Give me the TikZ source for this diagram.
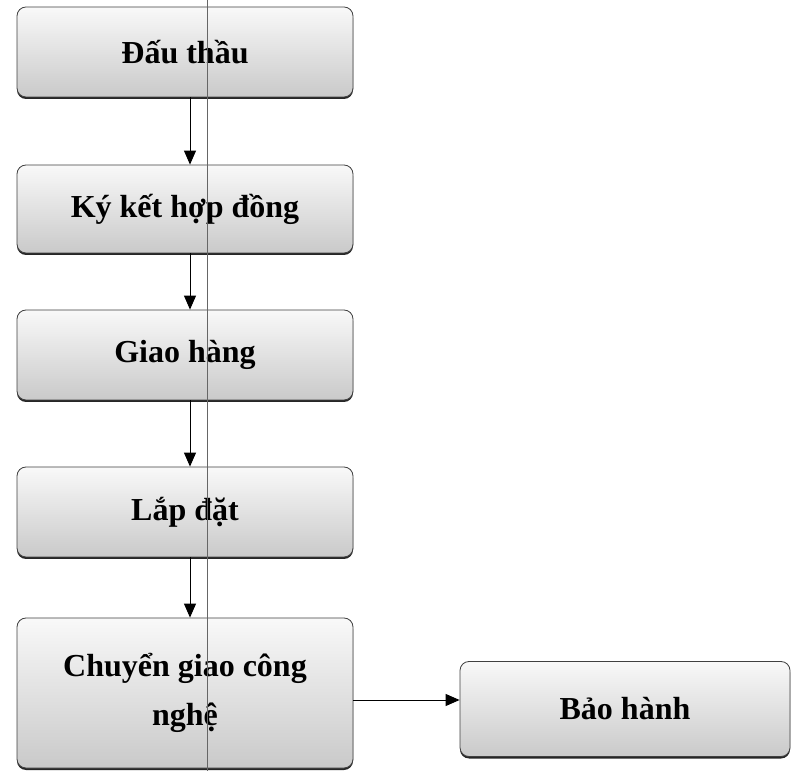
\documentclass[tikz,border=0pt]{standalone}
\usepackage{fontspec}
\setmainfont{Liberation Serif}
\usetikzlibrary{shapes.geometric, arrows.meta, shadows}

\begin{document}
\begin{tikzpicture}[x=1pt, y=1pt,
        stage/.style={rectangle, rounded corners=9pt, draw=black!75, line width=0.8pt, top color=gray!5, bottom color=gray!42, align=center, minimum width=336pt, minimum height=90pt, font=\fontsize{32}{49}\selectfont\bfseries, drop shadow={shadow xshift=0pt, shadow yshift=-2pt, fill=black!85, opacity=1}},
        flow/.style={-{Triangle[length=14pt, width=12pt]}, line width=1pt}]
        \useasboundingbox (0,0) rectangle (792,771);

        % Define nodes
        \node (dauthau) [stage] at (185,719) {Đấu thầu};
        \node (kyket) [stage, minimum height=88pt] at (185,562) {Ký kết hợp đồng};
        \node (giaohang) [stage] at (185,416) {Giao hàng};
        \node (lapdat) [stage] at (185,259) {Lắp đặt};
        \node (chuyengiao) [stage, minimum height=150pt] at (185,78) {Chuyển giao công\\nghệ};
        \node (baohanh) [stage, minimum width=330pt, minimum height=95pt] at (625,62) {Bảo hành};

        % Draw arrows
        \draw[flow] ([xshift=5pt]dauthau.south) -- ([xshift=5pt]kyket.north);
        \draw[flow] ([xshift=5pt]kyket.south) -- ([xshift=5pt]giaohang.north);
        \draw[flow] ([xshift=5pt]giaohang.south) -- ([xshift=5pt]lapdat.north);
        \draw[flow] ([xshift=5pt]lapdat.south) -- ([xshift=5pt]chuyengiao.north);
        \draw[flow] ([yshift=-7pt]chuyengiao.east) -- ([yshift=9pt]baohanh.west);

        % Vertical line across the page
        \coordinate (linetop) at (207,771);
        \coordinate (linebottom) at (207,0);
        \draw[black!60, line width=0.7pt] (linetop) -- (linebottom);
    \end{tikzpicture}
\end{document}
